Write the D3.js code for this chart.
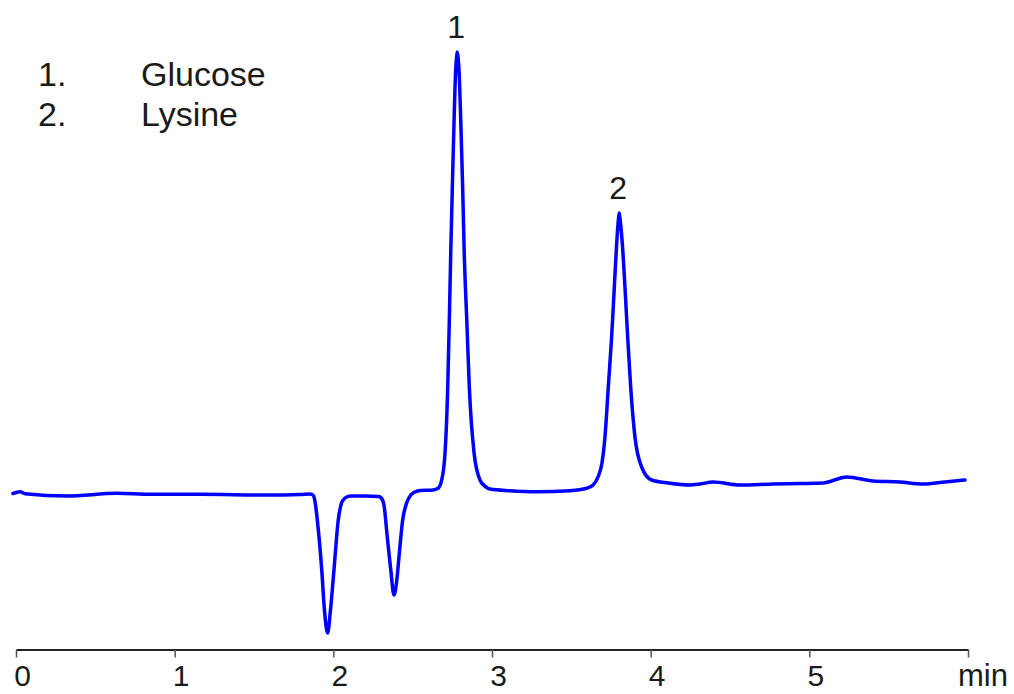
<!DOCTYPE html>
<html>
<head>
<meta charset="utf-8">
<script src="https://cdn.jsdelivr.net/npm/d3@7"></script>
<style>
  html, body { margin: 0; padding: 0; background: #fff; }
  svg { display: block; }
  text { font-family: "Liberation Sans", Arial, Helvetica, sans-serif; fill: #1a1a1a; }
</style>
</head>
<body>
<svg id="chart" width="1014" height="694"></svg>
<script>
// ---- data ----
const timeMin = [
  -0.019, 0.025, 0.057, 0.321, 0.637, 0.845, 1.160, 1.582, 1.790, 1.853,
  1.866, 1.876, 1.887, 1.899, 1.927, 1.944, 1.964, 1.982, 2.004, 2.031, 2.048, 2.067, 2.092, 2.110,
  2.200, 2.285, 2.302, 2.319, 2.340, 2.362, 2.382, 2.398, 2.416, 2.437, 2.462, 2.488, 2.515, 2.546,
  2.628, 2.662, 2.683, 2.704, 2.721, 2.731, 2.740, 2.750, 2.761, 2.771, 2.777, 2.781, 2.786,
  2.792, 2.803, 2.815, 2.825, 2.841, 2.857, 2.887, 2.924, 2.962, 2.987, 3.112, 3.282, 3.492, 3.597,
  3.637, 3.668, 3.693, 3.712, 3.733, 3.754, 3.771, 3.786, 3.797, 3.802, 3.807,
  3.821, 3.838, 3.855, 3.874, 3.901, 3.943, 4.006, 4.111, 4.248, 4.311, 4.393, 4.563,
  4.771, 4.941, 5.086, 5.237, 5.401, 5.571, 5.716, 5.855, 5.981
];
const signal = [
  -0.5, 1.3, -0.7, -3, -0.3, -1.3, -1.3, -2, -1.5, -1,
  -1.5, -3, -11, -27, -77, -117, -140, -117, -77, -27, -12, -6, -3.5, -3,
  -3, -3.5, -5, -12, -44, -77, -102, -90, -60, -27, -10, -2, 1, 2.5,
  3, 5, 13, 40, 106, 173, 240, 306, 373, 423, 436, 441, 436,
  423, 373, 306, 240, 173, 106, 40, 13, 6, 4, 2.3, 1.3, 2.3, 4.7,
  8, 16, 30, 56, 106, 156, 206, 250, 274, 280, 274,
  250, 206, 156, 106, 56, 26, 13, 10, 8, 9, 11, 8,
  9, 9.5, 10, 16, 12, 11, 9, 11, 13
];
const xTicks = [0, 1, 2, 3, 4, 5, 6];
const xTickLabels = ["0", "1", "2", "3", "4", "5", ""];
const xUnit = "min";
const peakNumbers = ["1", "2"];
const peakTimes = [2.781, 3.802];
const peakHeights = [441, 280];
const legendNumbers = ["1.", "2."];
const legendNames = ["Glucose", "Lysine"];

// ---- drawing ----
const svg = d3.select("#chart");
const x = d3.scaleLinear().domain([0, 6]).range([16, 968]);
const y = d3.scaleLinear().domain([-160, 460]).range([653, 33]);

const pts = timeMin.map((t, i) => [t, signal[i]]);

const line = d3.line()
  .x(d => x(d[0]))
  .y(d => y(d[1]))
  .curve(d3.curveMonotoneX);

svg.append("path")
  .datum(pts)
  .attr("d", line)
  .attr("fill", "none")
  .attr("stroke", "#0000ff")
  .attr("stroke-width", 3.5)
  .attr("stroke-linejoin", "round")
  .attr("stroke-linecap", "round");

// x axis
const axisY = 649.5;
const axis = d3.axisBottom(x)
  .tickValues(xTicks)
  .tickFormat((d, i) => xTickLabels[i])
  .tickSizeInner(8)
  .tickSizeOuter(0);

const gAxis = svg.append("g")
  .attr("transform", `translate(0,${axisY})`)
  .call(axis);
gAxis.select(".domain").attr("stroke", "#222").attr("stroke-width", 2);
gAxis.selectAll(".tick line").attr("stroke", "#555").attr("stroke-width", 1.5);
gAxis.selectAll(".tick text")
  .attr("font-size", 30)
  .attr("font-family", "\"Liberation Sans\", Arial, sans-serif")
  .attr("fill", "#1a1a1a")
  .attr("dy", null)
  .attr("y", 36.5)
  .attr("dx", 6);
gAxis.selectAll(".tick text").filter(function () { return this.textContent === ""; }).remove();

svg.append("text")
  .attr("x", 958)
  .attr("y", 686)
  .attr("font-size", 31)
  .text(xUnit);

// peak labels
svg.selectAll(".peaklabel")
  .data(peakNumbers)
  .enter().append("text")
  .attr("class", "peaklabel")
  .attr("x", (d, i) => x(peakTimes[i]) - 1)
  .attr("y", (d, i) => y(peakHeights[i]) - 14)
  .attr("text-anchor", "middle")
  .attr("font-size", 32)
  .text(d => d);

// legend
const legend = svg.append("g");
legendNumbers.forEach((n, i) => {
  legend.append("text")
    .attr("x", 38)
    .attr("y", 86 + i * 40)
    .attr("font-size", 34)
    .text(n);
  legend.append("text")
    .attr("x", 141)
    .attr("y", 86 + i * 40)
    .attr("font-size", 34)
    .text(legendNames[i]);
});
</script>
</body>
</html>
